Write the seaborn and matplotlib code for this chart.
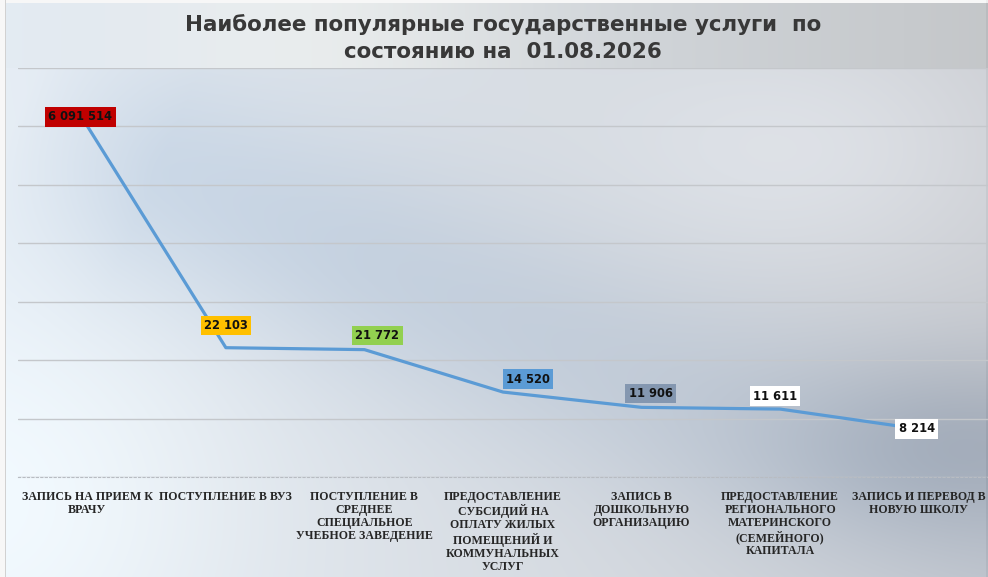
import numpy as np
import pandas as pd
import seaborn as sns
import matplotlib.pyplot as plt

sns.set_style("white")
plt.rcParams['font.family'] = ['DejaVu Sans']

# data
categories = [
    "ЗАПИСЬ НА ПРИЕМ К\nВРАЧУ",
    "ПОСТУПЛЕНИЕ В ВУЗ",
    "ПОСТУПЛЕНИЕ В\nСРЕДНЕЕ\nСПЕЦИАЛЬНОЕ\nУЧЕБНОЕ ЗАВЕДЕНИЕ",
    "ПРЕДОСТАВЛЕНИЕ\nСУБСИДИЙ НА\nОПЛАТУ ЖИЛЫХ\nПОМЕЩЕНИЙ И\nКОММУНАЛЬНЫХ\nУСЛУГ",
    "ЗАПИСЬ В\nДОШКОЛЬНУЮ\nОРГАНИЗАЦИЮ",
    "ПРЕДОСТАВЛЕНИЕ\nРЕГИОНАЛЬНОГО\nМАТЕРИНСКОГО\n(СЕМЕЙНОГО)\nКАПИТАЛА",
    "ЗАПИСЬ И ПЕРЕВОД В\nНОВУЮ ШКОЛУ",
]
# height of each point on the chart's own axis
plotted = [60000, 22103, 21772, 14520, 11906, 11611, 8214]
# printed data labels
value_labels = ["6 091 514", "22 103", "21 772", "14 520", "11 906", "11 611", "8 214"]

box_colors = ["#C00000", "#FFC000", "#92D050", "#5B9BD5", "#8497B0", "#FFFFFF", "#FFFFFF"]
label_offsets = [(-7, 9), (0, 22), (13, 14), (25, 13), (9, 14), (-5, 13), (-2, 0)]

W, H = 988, 577
fig = plt.figure(figsize=(W / 100, H / 100), dpi=100)

# background gradient (pixel coordinates)
px, py = np.meshgrid(np.arange(W, dtype=float), np.arange(H, dtype=float))
t = px / W
c0 = np.array([0.90, 0.93, 0.96])
c1 = np.array([0.80, 0.81, 0.83])
bg = c0 * (1 - t[..., None]) + c1 * t[..., None]
# darker bluish diagonal band
p0, p1 = np.array([100.0, 150.0]), np.array([760.0, 430.0])
d = p1 - p0
L = np.hypot(*d)
u = ((px - p0[0]) * d[0] + (py - p0[1]) * d[1]) / L
dist = np.abs((px - p0[0]) * d[1] - (py - p0[1]) * d[0]) / L
band_w = np.exp(-(dist / 120) ** 2) * np.clip(np.minimum(u / 150 + 0.6, 1.0), 0, 1) * np.clip(1.2 - u / L * 0.5, 0, 1)
bg -= band_w[..., None] * np.array([0.09, 0.065, 0.035])
# dark bottom-right corner
br = np.exp(-(((px - 970) / 190) ** 2 + ((py - 440) / 95) ** 2))
bg -= br[..., None] * np.array([0.12, 0.105, 0.085])
# light areas
tr = np.exp(-(((px - 820) / 200) ** 2 + ((py - 150) / 120) ** 2))
bg += tr[..., None] * 0.05
ll = np.exp(-(((px - 30) / 220) ** 2 + ((py - 500) / 200) ** 2))
bg += ll[..., None] * np.array([0.05, 0.05, 0.04])
# title band
rows = slice(3, 68)
tb = np.array([0.89, 0.92, 0.95]) * (1 - t[rows, :, None]) + np.array([0.77, 0.78, 0.79]) * t[rows, :, None]
glow = np.exp(-((px[rows] - 330) / 200) ** 2)
tb += glow[..., None] * np.array([0.06, 0.05, 0.03])
bg[rows] = tb
bg[:3] = 0.97
bg[:, :5] = 0.97
bg[:, 5] = 0.82
bg[:, 985:] -= 0.04
bg = np.clip(bg, 0, 1)

bg_ax = fig.add_axes([0, 0, 1, 1], zorder=-1)
bg_ax.imshow(bg, aspect='auto', extent=(0, 1, 0, 1))
bg_ax.axis('off')

ax = fig.add_axes([18 / W, 1 - 477 / H, 970 / W, (477 - 67.5) / H])
ax.set_facecolor('none')

df = pd.DataFrame({'x': range(len(categories)), 'y': plotted})
sns.lineplot(data=df, x='x', y='y', ax=ax, color="#5B9BD5", linewidth=2.3, sort=False)

ax.set_xlim(-0.5, len(categories) - 0.5)
ax.set_ylim(0, 70000)
ax.set_yticks(range(0, 70001, 10000))
ax.set_yticklabels([])
ax.yaxis.grid(True, color="#c4c7cb", linewidth=1)
ax.tick_params(axis='both', length=0)
for s in ['left', 'right', 'top']:
    ax.spines[s].set_visible(False)
ax.spines['bottom'].set_color("#b8bcc2")
ax.spines['bottom'].set_linestyle((0, (2, 2)))
ax.set_xlabel('')
ax.set_ylabel('')

ax.set_xticks(range(len(categories)))
ax.set_xticklabels(categories, family=['Liberation Serif', 'DejaVu Serif'], fontweight='bold',
                   fontsize=8.6, color="#262626", linespacing=1.12)
ax.tick_params(axis='x', pad=10)

for i, (v, txt, c, off) in enumerate(zip(plotted, value_labels, box_colors, label_offsets)):
    ax.annotate(txt, (i, v), xytext=off, textcoords='offset pixels', ha='center', va='center',
                fontsize=8.3, fontweight='bold', color="#111111",
                bbox=dict(boxstyle='square,pad=0.28', fc=c, ec='none'))

fig.text(503 / W, 1 - 38 / H, "Наиболее популярные государственные услуги  по\nсостоянию на  01.08.2026",
         ha='center', va='center', fontsize=15.4, fontweight='bold', color="#383838", linespacing=1.38)

fig.savefig("out.png", dpi=100)
